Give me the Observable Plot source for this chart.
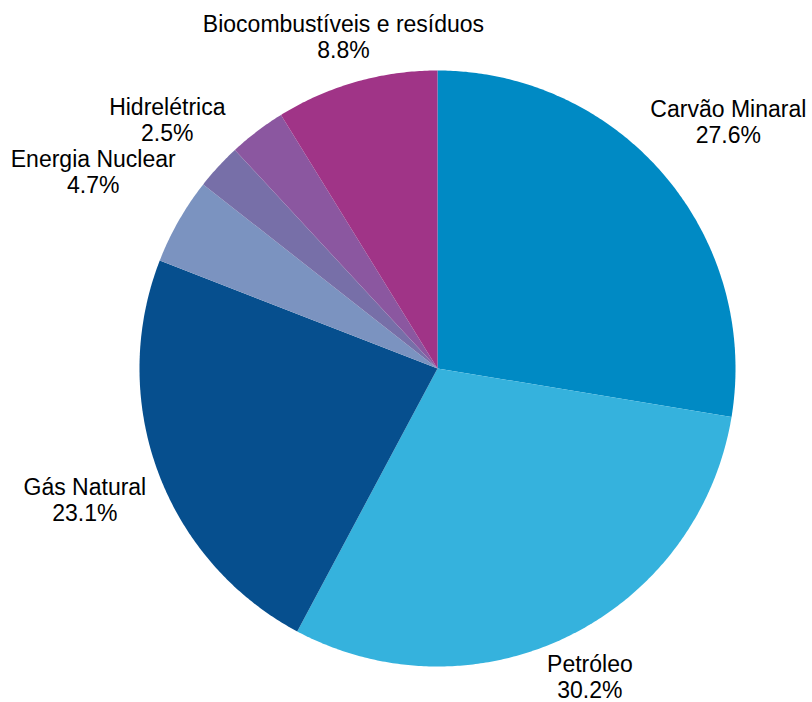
<!DOCTYPE html>
<html>
<head>
<meta charset="utf-8">
<script src="https://cdn.jsdelivr.net/npm/d3@7"></script>
<script src="https://cdn.jsdelivr.net/npm/@observablehq/plot@0.6"></script>
<style>
  html, body { margin: 0; padding: 0; background: #fff; }
</style>
</head>
<body>
<div id="chart"></div>
<script>
// Matriz energética: participação de cada fonte (%)
const categories = [
  "Carvão Minaral",
  "Petróleo",
  "Gás Natural",
  "Energia Nuclear",
  "Hidrelétrica",
  "Outras",
  "Biocombustíveis e resíduos"
];
const shares = [27.6, 30.2, 23.1, 4.7, 2.5, 3.1, 8.8];
const labeled = [true, true, true, true, true, false, true];

// Fill colour per source, same order as categories
const palette = ["#008ac4", "#35b2dd", "#064f8e", "#7b93c0", "#776fa8", "#8b57a0", "#a03487"];

// Distance of each label block from the centre, in pie radii
const labelRadius = {
  "Carvão Minaral": 1.28,
  "Petróleo": 1.155,
  "Gás Natural": 1.262,
  "Energia Nuclear": 1.33,
  "Hidrelétrica": 1.233,
  "Biocombustíveis e resíduos": 1.156
};

const rows = categories.map((name, i) => ({name, share: shares[i], labeled: labeled[i]}));

// Angles start at 12 o'clock and run clockwise; planar coords with y pointing down
const arcs = d3.pie().sort(null).value(d => d.share)(rows);
const pt = (a, r = 1) => [r * Math.sin(a), -r * Math.cos(a)];

const slices = arcs.map(a => {
  const n = Math.max(2, Math.ceil((a.endAngle - a.startAngle) / (Math.PI / 360)));
  const ring = [[0, 0]];
  for (let k = 0; k <= n; ++k) ring.push(pt(a.startAngle + (a.endAngle - a.startAngle) * k / n));
  ring.push([0, 0]);
  return {type: "Feature", properties: {name: a.data.name}, geometry: {type: "Polygon", coordinates: [ring]}};
});

const labels = arcs.filter(a => a.data.labeled).map(a => {
  const mid = (a.startAngle + a.endAngle) / 2;
  const [x, y] = pt(mid, labelRadius[a.data.name]);
  return {x, y, text: `${a.data.name}\n${a.data.share.toFixed(1)}%`};
});

const chart = Plot.plot({
  width: 812,
  height: 702,
  marginLeft: 139,
  marginRight: 77,
  marginTop: 70,
  marginBottom: 36,
  projection: {
    type: "identity",
    domain: {type: "MultiPoint", coordinates: [[-1, -1], [1, 1]]},
    clip: false
  },
  color: {type: "ordinal", domain: categories, range: palette},
  style: {fontFamily: "'Liberation Sans', Arial, sans-serif", background: "#fff", overflow: "visible"},
  marks: [
    Plot.geo(slices, {fill: d => d.properties.name}),
    Plot.text(labels, {
      x: "x",
      y: "y",
      text: "text",
      fontSize: 23,
      lineHeight: 1.13,
      fill: "#000",
      textAnchor: "middle"
    })
  ]
});

document.getElementById("chart").append(chart);
</script>
</body>
</html>
